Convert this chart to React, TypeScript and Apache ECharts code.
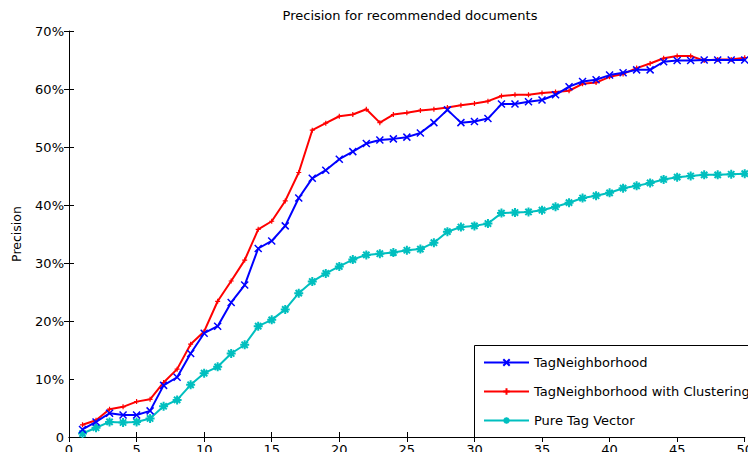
import React, { useEffect, useRef } from "react";
import * as echarts from "echarts";

const xValues: number[] = Array.from({ length: 50 }, (_, i) => i + 1);

const tagNeighborhood: number[] = [
  1.3, 2.6, 4.1, 3.8, 3.8, 4.5, 8.9, 10.3, 14.4, 17.9,
  19.1, 23.2, 26.2, 32.5, 33.8, 36.4, 41.2, 44.6, 46.0, 47.9,
  49.2, 50.6, 51.2, 51.4, 51.7, 52.4, 54.2, 56.4, 54.2, 54.4,
  54.9, 57.4, 57.4, 57.8, 58.1, 59.0, 60.4, 61.3, 61.6, 62.4,
  62.8, 63.3, 63.3, 64.7, 64.9, 64.9, 65.0, 65.0, 65.0, 65.0,
];

const tagNeighborhoodClustering: number[] = [
  2.1, 2.9, 4.8, 5.2, 6.1, 6.5, 9.4, 11.7, 16.0, 18.2,
  23.4, 26.9, 30.5, 35.8, 37.2, 40.7, 45.6, 52.9, 54.1, 55.3,
  55.6, 56.5, 54.2, 55.6, 55.9, 56.3, 56.5, 56.8, 57.2, 57.5,
  57.9, 58.8, 59.0, 59.0, 59.3, 59.5, 59.7, 60.9, 61.1, 62.1,
  62.6, 63.6, 64.4, 65.3, 65.7, 65.7, 64.9, 65.1, 65.1, 65.4,
];

const pureTagVector: number[] = [
  0.6, 1.6, 2.6, 2.5, 2.6, 3.2, 5.3, 6.4, 9.0, 11.0,
  12.1, 14.4, 15.9, 19.1, 20.2, 22.0, 24.8, 26.8, 28.2, 29.4,
  30.6, 31.4, 31.6, 31.8, 32.2, 32.4, 33.5, 35.4, 36.2, 36.4,
  36.8, 38.6, 38.7, 38.8, 39.1, 39.7, 40.4, 41.2, 41.6, 42.1,
  42.9, 43.3, 43.8, 44.4, 44.8, 45.0, 45.2, 45.2, 45.3, 45.4,
];

const seriesNames: string[] = [
  "TagNeighborhood",
  "TagNeighborhood with Clustering",
  "Pure Tag Vector",
];

const rightTickValues: number[] = [20, 30, 40, 50, 60, 70];

const titleText = "Precision for recommended documents";
const yAxisName = "Precision";

const FONT = "DejaVu Sans";

export default function App() {
  const ref = useRef<HTMLDivElement>(null);

  useEffect(() => {
    if (!ref.current) return;
    const chart = echarts.init(ref.current, undefined, { renderer: "svg" });

    const pairs = (arr: number[]) => xValues.map((x, i) => [x, arr[i]]);

    const xSymbol = "path://M0,0L10,10M0,10L10,0";
    const plusSymbol = "path://M5,0L5,10M0,5L10,5";
    const starSymbol =
      "path://M5,0L5,10M0,5L10,5M1.5,1.5L8.5,8.5M1.5,8.5L8.5,1.5";

    const axisLine = { show: true, lineStyle: { color: "#000", width: 1 } };
    const axisTick = {
      show: true,
      inside: true,
      length: 5,
      lineStyle: { color: "#000", width: 1 },
    };
    const labelStyle = { color: "#000", fontFamily: FONT, fontSize: 13 };

    chart.setOption({
      animation: false,
      backgroundColor: "#fff",
      grid: { left: 69, right: 6, top: 31, bottom: 23, containLabel: false },
      xAxis: [
        {
          type: "value",
          min: 0,
          max: 50,
          interval: 5,
          axisLine,
          axisTick,
          splitLine: { show: false },
          axisLabel: { ...labelStyle, margin: 6 },
        },
        {
          type: "value",
          position: "top",
          min: 0,
          max: 50,
          interval: 5,
          axisLine,
          axisTick,
          splitLine: { show: false },
          axisLabel: { show: false },
        },
      ],
      yAxis: [
        {
          type: "value",
          min: 0,
          max: 70,
          interval: 10,
          axisLine,
          axisTick,
          splitLine: { show: false },
          axisLabel: {
            ...labelStyle,
            margin: 5,
            formatter: (v: number) => (v === 0 ? "0" : `${v}%`),
          },
          name: yAxisName,
          nameLocation: "middle",
          nameRotate: 90,
          nameGap: 46,
          nameTextStyle: { color: "#000", fontFamily: FONT, fontSize: 12.5 },
        },
        {
          type: "value",
          position: "right",
          min: 0,
          max: 70,
          interval: 10,
          axisLine: { show: false },
          axisTick: { ...axisTick, customValues: rightTickValues },
          splitLine: { show: false },
          axisLabel: { show: false },
        },
      ],
      legend: {
        orient: "vertical",
        left: 483,
        top: 356,
        padding: 0,
        itemWidth: 45,
        itemHeight: 8,
        itemGap: 16,
        z: 120,
        textStyle: { color: "#000", fontFamily: FONT, fontSize: 13 },
        data: seriesNames,
      },
      graphic: [
        {
          type: "line",
          z: 100,
          shape: { x1: 750.5, y1: 31, x2: 750.5, y2: 345 },
          style: { stroke: "#000", lineWidth: 1 },
        },
        {
          type: "rect",
          z: 100,
          shape: { x: 474.5, y: 345.5, width: 290, height: 91.5 },
          style: { fill: "#fff", lineWidth: 0 },
        },
        {
          type: "rect",
          z: 200,
          shape: { x: 751, y: 347, width: 10, height: 89.5 },
          style: { fill: "#fff", lineWidth: 0 },
        },
        {
          type: "polyline",
          z: 101,
          shape: {
            points: [
              [760, 345.5],
              [474.5, 345.5],
              [474.5, 437],
            ],
          },
          style: { stroke: "#000", lineWidth: 1, fill: "none" },
        },
        {
          type: "text",
          x: 410,
          y: 15,
          z: 100,
          style: {
            text: titleText,
            fontFamily: FONT,
            fontSize: 13,
            fill: "#000",
            textAlign: "center",
            textVerticalAlign: "middle",
          },
        },
      ],
      series: [
        {
          name: seriesNames[0],
          type: "line",
          data: pairs(tagNeighborhood),
          symbol: xSymbol,
          symbolSize: 7,
          showAllSymbol: true,
          lineStyle: { color: "#0000ff", width: 2 },
          itemStyle: { color: "#0000ff", borderColor: "#0000ff", borderWidth: 1.5 },
          z: 3,
        },
        {
          name: seriesNames[1],
          type: "line",
          data: pairs(tagNeighborhoodClustering),
          symbol: plusSymbol,
          symbolSize: 5,
          showAllSymbol: true,
          lineStyle: { color: "#ff0000", width: 2 },
          itemStyle: { color: "#ff0000", borderColor: "#ff0000", borderWidth: 1.2 },
          z: 2,
        },
        {
          name: seriesNames[2],
          type: "line",
          data: pairs(pureTagVector),
          symbol: starSymbol,
          symbolSize: 9,
          showAllSymbol: true,
          lineStyle: { color: "#00bfbf", width: 2 },
          itemStyle: { color: "#00bfbf", borderColor: "#00bfbf", borderWidth: 2 },
          z: 2,
        },
      ],
    });

    return () => chart.dispose();
  }, []);

  return <div ref={ref} style={{ width: 756, height: 460, margin: -8 }} />;
}
